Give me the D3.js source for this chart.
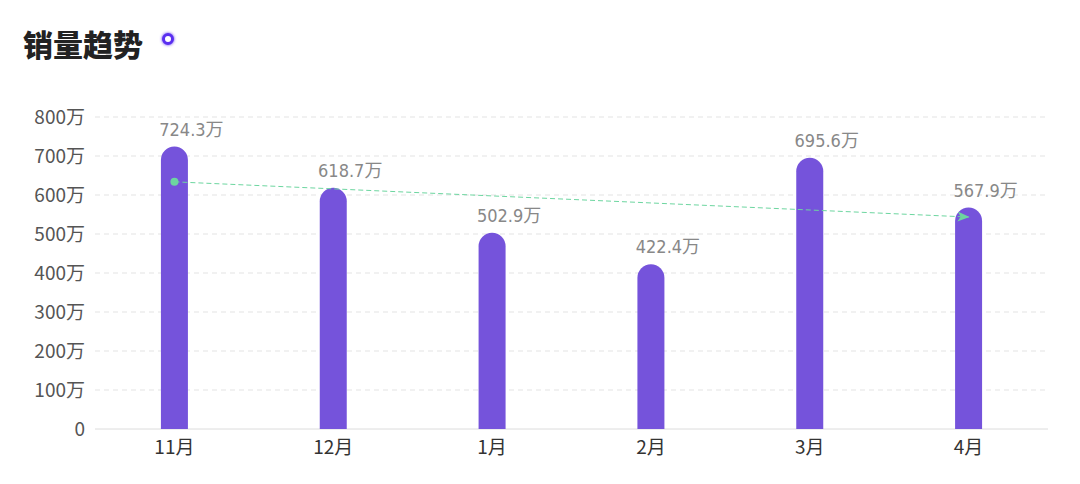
<!DOCTYPE html>
<html>
<head>
<meta charset="utf-8">
<script src="https://cdn.jsdelivr.net/npm/d3@7"></script>
<style>
  body { margin: 0; background: #fff; }
  svg { display: block; }
</style>
</head>
<body>
<script>
// chart data
var months = ["11月", "12月", "1月", "2月", "3月", "4月"];
var sales = [724.3, 618.7, 502.9, 422.4, 695.6, 567.9];
var yTicks = [0, 100, 200, 300, 400, 500, 600, 700, 800];
var trendEnds = [633.8, 543.5];   // trend line start (11月) / end (4月)

var W = 1080, H = 484;
var margin = { left: 95, right: 32, top: 117, bottom: 55 };

var svg = d3.select("body").append("svg")
  .attr("width", W)
  .attr("height", H);

// title
svg.append("text")
  .attr("x", 23)
  .attr("y", 56)
  .attr("font-family", "'Noto Sans CJK SC', sans-serif")
  .attr("font-weight", "900")
  .attr("font-size", 30)
  .attr("fill", "#222")
  .text("销量趋势");

var defs = svg.append("defs");
var glow = defs.append("filter").attr("id", "glow")
  .attr("x", "-100%").attr("y", "-100%").attr("width", "300%").attr("height", "300%");
glow.append("feGaussianBlur").attr("stdDeviation", 1.5).attr("result", "b");
var fm = glow.append("feMerge");
fm.append("feMergeNode").attr("in", "b");
fm.append("feMergeNode").attr("in", "SourceGraphic");

svg.append("circle")
  .attr("cx", 168).attr("cy", 39).attr("r", 4.5)
  .attr("fill", "#fff")
  .attr("stroke", "#5a2ef0")
  .attr("stroke-width", 3)
  .attr("filter", "url(#glow)");

var x = d3.scaleBand()
  .domain(months)
  .range([margin.left, W - margin.right]);

var y = d3.scaleLinear()
  .domain([0, 800])
  .range([H - margin.bottom, margin.top]);

// grid
svg.append("g").selectAll("line")
  .data(yTicks.filter(function (d) { return d > 0; }))
  .enter().append("line")
  .attr("x1", margin.left).attr("x2", W - margin.right)
  .attr("y1", function (d) { return y(d); })
  .attr("y2", function (d) { return y(d); })
  .attr("stroke", "#e3e3e3")
  .attr("stroke-dasharray", "5,4");

// y labels
svg.append("g").selectAll("text")
  .data(yTicks)
  .enter().append("text")
  .attr("x", 85)
  .attr("y", function (d) { return y(d); })
  .attr("dy", "0.36em")
  .attr("text-anchor", "end")
  .attr("font-family", "'Noto Sans CJK SC', sans-serif")
  .attr("font-size", 19)
  .attr("fill", "#555")
  .text(function (d) { return d === 0 ? "0" : d + "万"; });

// x axis line
svg.append("line")
  .attr("x1", margin.left).attr("x2", W - margin.right)
  .attr("y1", y(0)).attr("y2", y(0))
  .attr("stroke", "#dcdcdc");

// x labels
svg.append("g").selectAll("text")
  .data(months)
  .enter().append("text")
  .attr("x", function (d) { return x(d) + x.bandwidth() / 2; })
  .attr("y", y(0) + 25)
  .attr("text-anchor", "middle")
  .attr("font-family", "'Noto Sans CJK SC', sans-serif")
  .attr("font-size", 19)
  .attr("fill", "#333")
  .text(function (d) { return d; });

// bars with rounded top
var bw = 27;
function barPath(d, i) {
  var cx = x(months[i]) + x.bandwidth() / 2;
  var x0 = cx - bw / 2, x1 = cx + bw / 2;
  var top = y(d), base = y(0), r = bw / 2;
  return "M" + x0 + "," + base +
    "L" + x0 + "," + (top + r) +
    "A" + r + "," + r + " 0 0 1 " + x1 + "," + (top + r) +
    "L" + x1 + "," + base + "Z";
}
svg.append("g").selectAll("path")
  .data(sales)
  .enter().append("path")
  .attr("d", barPath)
  .attr("fill", "#7553db");

// value labels
svg.append("g").selectAll("text")
  .data(sales)
  .enter().append("text")
  .attr("x", function (d, i) { return x(months[i]) + x.bandwidth() / 2; })
  .attr("y", function (d) { return y(d) - 11; })
  .attr("text-anchor", "middle")
  .attr("dx", 17)
  .attr("font-family", "'DejaVu Sans Condensed', 'Noto Sans CJK SC', sans-serif")
  .attr("font-size", 18)
  .attr("fill", "#888")
  .text(function (d) { return d.toFixed(1) + "万"; });

// trend line
var tx0 = x(months[0]) + x.bandwidth() / 2;
var tx1 = x(months[months.length - 1]) + x.bandwidth() / 2;
defs.append("marker")
  .attr("id", "arrow")
  .attr("viewBox", "0 0 12 10")
  .attr("refX", 11).attr("refY", 5)
  .attr("markerWidth", 12).attr("markerHeight", 10)
  .attr("markerUnits", "userSpaceOnUse")
  .attr("orient", "auto")
  .append("path")
  .attr("d", "M0,0 L12,5 L0,10 L3,5 Z")
  .attr("fill", "#6dd6a0");

svg.append("line")
  .attr("x1", tx0).attr("y1", y(trendEnds[0]))
  .attr("x2", tx1).attr("y2", y(trendEnds[1]))
  .attr("stroke", "#6dd6a0")
  .attr("stroke-width", 1)
  .attr("stroke-dasharray", "5,3")
  .attr("marker-end", "url(#arrow)");

svg.append("circle")
  .attr("cx", tx0).attr("cy", y(trendEnds[0]))
  .attr("r", 4)
  .attr("fill", "#6dd6a0");
</script>
</body>
</html>
